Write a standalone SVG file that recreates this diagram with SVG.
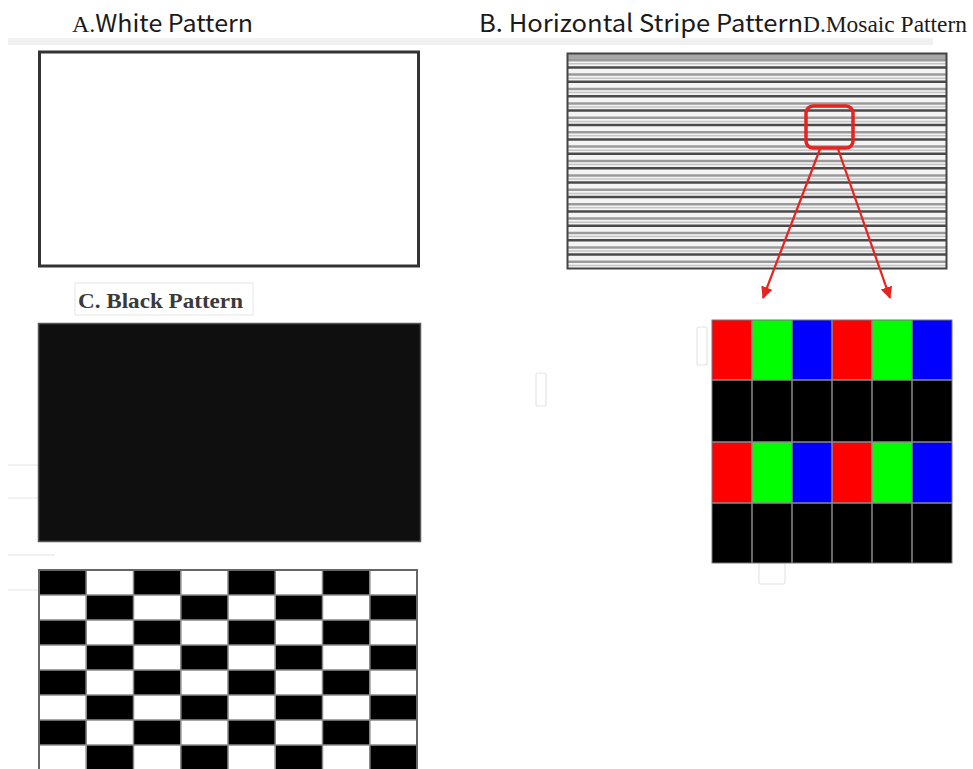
<svg xmlns="http://www.w3.org/2000/svg" width="973" height="769" viewBox="0 0 973 769">
<style>
.title{font-family:"Noto Sans CJK SC","Noto Sans",sans-serif;font-size:24px;font-weight:400;fill:#1a1a1a}
.serif{font-family:"Liberation Serif","Times New Roman",serif;font-size:23px;fill:#1a1a1a}
.frame{fill:none;stroke:#333;stroke-width:3}
.faint{fill:none;stroke:#e4e4e4;stroke-width:1.2}
.grid{fill:none;stroke:#8a8a8a;stroke-width:1.5}
.red{stroke:#e8231f;fill:none}
</style>
<defs>
<pattern id="checker" patternUnits="userSpaceOnUse" x="39" y="570" width="94.5" height="50">
<rect x="0" y="0" width="94.5" height="50" fill="#fff"/>
<rect x="0" y="0" width="47.25" height="25" fill="#000"/>
<rect x="47.25" y="25" width="47.25" height="25" fill="#000"/>
</pattern>
<marker id="arrow" viewBox="0 0 12 12" refX="11" refY="6" markerWidth="12" markerHeight="12" markerUnits="userSpaceOnUse" orient="auto">
<path d="M0,0 L12,6 L0,12 Z" fill="#e8231f"/>
</marker>
</defs>
<rect width="973" height="769" fill="#fff"/>
<rect x="8" y="38" width="925" height="7" fill="#f1f1f1"/>
<g id="faint-marks">
<rect class="faint" x="536" y="373" width="10" height="33" rx="2"/>
<rect class="faint" x="697" y="327" width="10" height="38" rx="2"/>
<rect class="faint" x="759" y="563" width="26" height="21" rx="2"/>
<path class="faint" d="M8,465 H38 M8,498 H38 M8,555 H55 M8,590 H39"/>
</g>
<g id="title-a"><text class="title" x="72" y="32" textLength="181" lengthAdjust="spacingAndGlyphs"><tspan class="serif">A.</tspan>White Pattern</text></g>
<g id="title-b"><text class="title" x="479" y="32" textLength="324" lengthAdjust="spacingAndGlyphs">B. Horizontal Stripe Pattern</text></g>
<g id="title-d"><text class="serif" x="803" y="32" textLength="164" lengthAdjust="spacingAndGlyphs">D.Mosaic Pattern</text></g>
<g id="white-pattern">
<rect class="frame" x="39.5" y="52" width="379" height="214" fill="#fff"/>
</g>
<g id="stripe-pattern">
<rect x="567" y="53" width="380" height="216" fill="#f4f4f4"/>
<rect x="567" y="53" width="380" height="6" fill="#a8a8a8"/>
<path stroke="#9a9a9a" stroke-width="2.5" fill="none" d="M567,60.2H947M567,74.6H947M567,89H947M567,103.4H947M567,117.8H947M567,132.2H947M567,146.6H947M567,161H947M567,175.4H947M567,189.8H947M567,204.2H947M567,218.6H947M567,233H947M567,247.4H947M567,261.8H947"/>
<path stroke="#c4c4c4" stroke-width="1.5" fill="none" d="M567,63.8H947M567,78.2H947M567,92.6H947M567,107H947M567,121.4H947M567,135.8H947M567,150.2H947M567,164.6H947M567,179H947M567,193.4H947M567,207.8H947M567,222.2H947M567,236.6H947M567,251H947M567,265.4H947"/>
<path stroke="#4a4a4a" stroke-width="2.5" fill="none" d="M567,67.4H947M567,81.8H947M567,96.2H947M567,110.6H947M567,125H947M567,139.4H947M567,153.8H947M567,168.2H947M567,182.6H947M567,197H947M567,211.4H947M567,225.8H947M567,240.2H947M567,254.6H947"/>
<rect x="567.5" y="53.5" width="379" height="215" fill="none" stroke="#444" stroke-width="2"/>
<rect class="red" x="806" y="106" width="47" height="42" rx="7" stroke-width="3.5"/>
</g>
<g id="connectors">
<line class="red" x1="820" y1="149" x2="763" y2="298" stroke-width="2.2" marker-end="url(#arrow)"/>
<line class="red" x1="838" y1="149" x2="890" y2="298" stroke-width="2.2" marker-end="url(#arrow)"/>
</g>
<g id="black-pattern-label">
<rect x="75" y="283" width="178" height="32" fill="#fff" stroke="#e6e6e6" stroke-width="1"/>
<text x="78" y="308" font-family="Liberation Serif, Times New Roman, serif" font-size="21" font-weight="bold" fill="#3a3a3a" textLength="165" lengthAdjust="spacingAndGlyphs">C. Black Pattern</text>
</g>
<g id="black-pattern">
<rect x="38.5" y="323.5" width="382" height="218" fill="#0f0f0f" stroke="#555" stroke-width="1.5"/>
</g>
<g id="mosaic-pattern">
<rect x="712" y="320" width="240" height="243" fill="#000"/>
<rect x="712" y="320" width="40" height="60" fill="#ff0000"/>
<rect x="752" y="320" width="40" height="60" fill="#00ff00"/>
<rect x="792" y="320" width="40" height="60" fill="#0000ff"/>
<rect x="832" y="320" width="40" height="60" fill="#ff0000"/>
<rect x="872" y="320" width="40" height="60" fill="#00ff00"/>
<rect x="912" y="320" width="40" height="60" fill="#0000ff"/>
<rect x="712" y="442" width="40" height="61" fill="#ff0000"/>
<rect x="752" y="442" width="40" height="61" fill="#00ff00"/>
<rect x="792" y="442" width="40" height="61" fill="#0000ff"/>
<rect x="832" y="442" width="40" height="61" fill="#ff0000"/>
<rect x="872" y="442" width="40" height="61" fill="#00ff00"/>
<rect x="912" y="442" width="40" height="61" fill="#0000ff"/>
<path class="grid" stroke="#9a9a9a" d="M752,320V563M792,320V563M832,320V563M872,320V563M912,320V563M712,380H952M712,442H952M712,503H952"/>
<rect x="712" y="320" width="240" height="243" fill="none" stroke="#777" stroke-width="1"/>
</g>
<g id="checker-pattern">
<rect x="39" y="570" width="378" height="200" fill="url(#checker)"/>
<path class="grid" d="M86.25,570V769M133.5,570V769M180.75,570V769M228,570V769M275.25,570V769M322.5,570V769M369.75,570V769M39,595H417M39,620H417M39,645H417M39,670H417M39,695H417M39,720H417M39,745H417"/>
<path fill="none" stroke="#666" stroke-width="2" d="M39,769V570H417V769"/>
</g>
</svg>
